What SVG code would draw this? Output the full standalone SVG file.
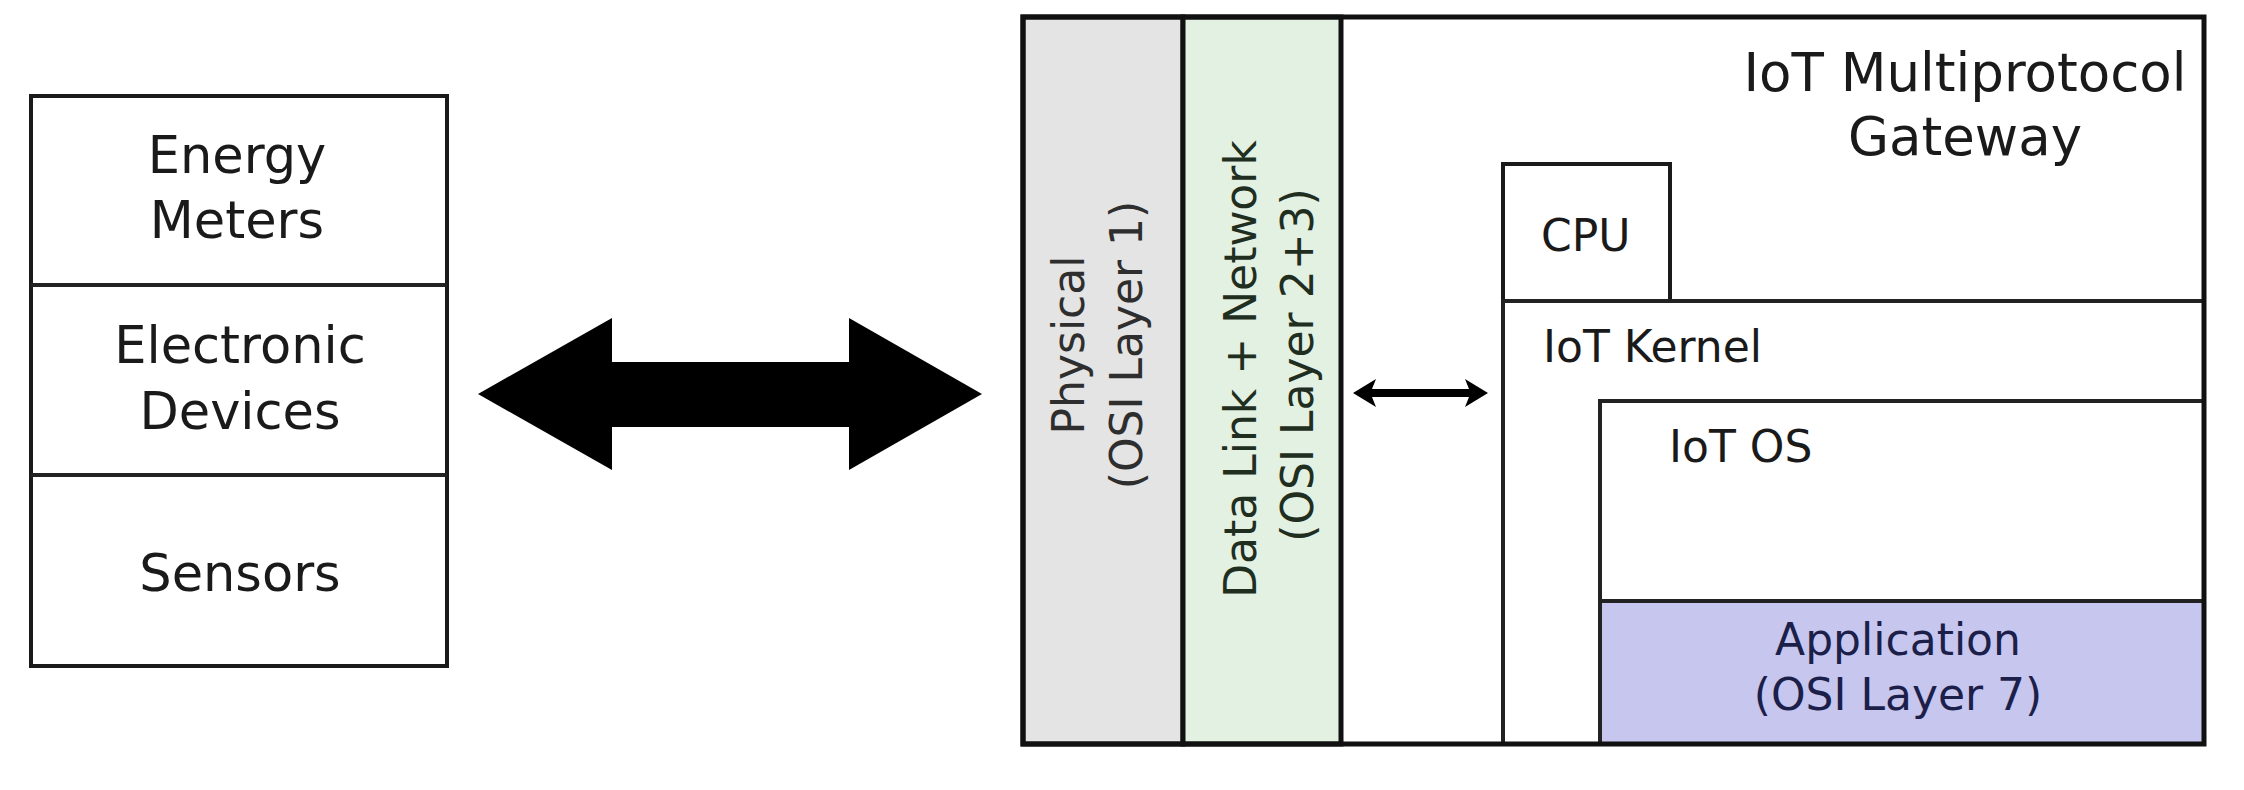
<svg xmlns="http://www.w3.org/2000/svg" width="2244" height="790" viewBox="0 0 2244 790">
<style>
text{font-family:"DejaVu Sans","Liberation Sans",sans-serif;fill:#1a1a1a}
.box{fill:#fff;stroke:#1a1a1a;stroke-width:4}
.ln{fill:none;stroke:#222;stroke-width:4}
.l{font-size:51px;text-anchor:middle}
.r{font-size:44px}
.c{text-anchor:middle}
</style>
<rect width="2244" height="790" fill="#fff"/>
<g id="devices">
<rect class="box" x="31" y="96" width="416" height="570"/>
<line class="ln" x1="31" y1="285" x2="447" y2="285"/>
<line class="ln" x1="31" y1="475" x2="447" y2="475" stroke-width="5"/>
<text class="l" x="237" y="173">Energy</text>
<text class="l" x="237" y="238">Meters</text>
<text class="l" x="240" y="363">Electronic</text>
<text class="l" x="240" y="429">Devices</text>
<text class="l" x="240" y="591">Sensors</text>
</g>
<g id="gateway">
<rect x="1023" y="17" width="1181" height="727" fill="#fff"/>
<text x="1965" y="91" font-size="53" text-anchor="middle">IoT Multiprotocol</text>
<text x="1965" y="155" font-size="53" text-anchor="middle">Gateway</text>
</g>
<g id="physical">
<rect x="1023" y="17" width="160" height="727" fill="#e4e4e4" stroke="#111" stroke-width="5"/>
<text class="r c" transform="translate(1084,345) rotate(-90)" style="fill:#2e2e2e">Physical</text>
<text class="r c" transform="translate(1142,345) rotate(-90)" style="fill:#2e2e2e">(OSI Layer 1)</text>
</g>
<g id="datalink">
<rect x="1183" y="17" width="158" height="727" fill="#e3f1e2" stroke="#111" stroke-width="5"/>
<text class="r c" transform="translate(1256,369) rotate(-90)" style="fill:#1f2e1f">Data Link + Network</text>
<text class="r c" transform="translate(1313,365) rotate(-90)" style="fill:#1f2e1f">(OSI Layer 2+3)</text>
</g>
<g id="cpu">
<rect class="box" x="1503" y="164" width="167" height="137" stroke-width="4"/>
<text class="r" x="1541" y="251">CPU</text>
</g>
<g id="kernel">
<path class="ln" d="M1503,744 V301 H2204"/>
<text class="r" x="1543" y="362">IoT Kernel</text>
</g>
<g id="os">
<path class="ln" d="M1600,744 V401 H2204"/>
<text class="r" x="1669" y="462">IoT OS</text>
</g>
<g id="application">
<rect x="1600" y="601" width="604" height="143" fill="#c6c6ee" stroke="#222" stroke-width="4"/>
<text class="r c" x="1898" y="655" style="fill:#1c1f4a">Application</text>
<text class="r c" x="1898" y="710" style="fill:#1c1f4a">(OSI Layer 7)</text>
</g>
<rect x="1023" y="17" width="1181" height="727" fill="none" stroke="#111" stroke-width="5"/>
<g id="connectors" fill="#000">
<polygon points="478,394 612,318 612,362 849,362 849,318 982,394 849,470 849,427 612,427 612,470"/>
<path d="M1353,393 L1376,379 L1372,389 L1469,389 L1465,379 L1488,393 L1465,407 L1469,397 L1372,397 L1376,407 Z"/>
</g>
</svg>
